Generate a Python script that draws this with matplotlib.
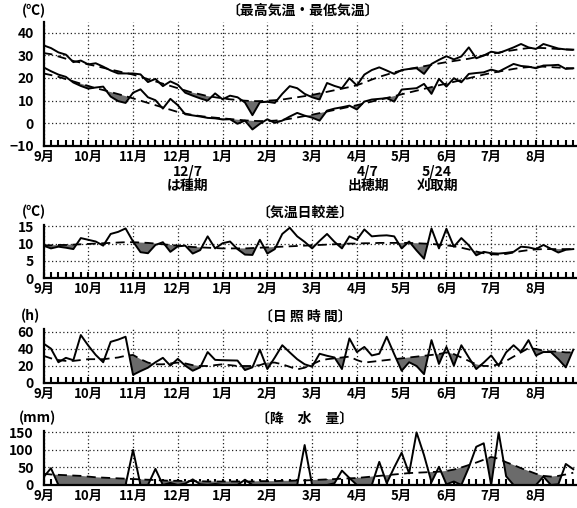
import numpy as np
import matplotlib.pyplot as plt

plt.rcParams['font.family'] = ['Noto Sans CJK JP', 'DejaVu Sans']
plt.rcParams['font.weight'] = 'bold'

W, H = 577, 508

months = ['9月', '10月', '11月', '12月', '1月', '2月',
          '3月', '4月', '5月', '6月', '7月', '8月']

# pentad values, Sep 1st pentad .. Aug 6th pentad (72)
tmax = [34.4, 33.2, 31.3, 30.3, 27.0, 27.7,
        26.0, 26.5, 25.0, 23.3, 22.0, 22.0,
        22.0, 21.6, 18.2, 19.6, 16.4, 18.5,
        17.0, 13.5, 12.2, 11.0, 10.0, 13.2,
        10.6, 12.2, 11.5, 9.2, 3.6, 9.3,
        9.5, 9.0, 13.0, 16.4, 15.5, 13.0,
        11.5, 10.5, 17.8, 16.5, 15.5, 19.9,
        16.7, 21.5, 23.5, 24.7, 23.3, 21.8,
        23.5, 24.0, 24.3, 21.8, 26.2, 28.0,
        29.6, 28.2, 29.5, 33.5, 28.7, 29.9,
        31.6, 31.0, 32.2, 33.5, 35.0, 33.5,
        32.8, 35.0, 34.0, 33.0, 32.6, 32.5]
tmax_norm = [31.0, 30.5, 29.5, 28.5, 27.5, 26.8,
             26.0, 25.3, 24.5, 23.7, 23.0, 22.2,
             21.5, 20.5, 19.5, 18.5, 17.5, 16.5,
             15.5, 14.5, 13.5, 12.8, 12.0, 11.5,
             11.0, 10.6, 10.3, 10.0, 9.8, 9.8,
             10.0, 10.2, 10.5, 11.0, 11.5, 12.0,
             12.5, 13.2, 13.9, 14.6, 15.3, 16.0,
             16.8, 18.0, 19.3, 20.5, 21.5, 22.5,
             23.3, 24.0, 24.6, 25.2, 25.8, 26.4,
             27.0, 27.5, 28.0, 28.5, 29.2, 30.0,
             30.6, 31.2, 31.8, 32.3, 32.8, 33.2,
             33.3, 33.2, 33.0, 32.8, 32.6, 32.4]
tmin = [24.7, 23.0, 21.5, 20.5, 18.0, 16.5,
        15.3, 15.8, 16.2, 11.8, 9.8, 9.0,
        13.5, 15.0, 11.5, 10.2, 6.5, 10.8,
        8.0, 4.0, 3.5, 3.0, 2.4, 2.2,
        1.7, 1.8, -0.2, 1.2, -2.7, -0.2,
        1.8, 0.2, 1.2, 3.0, 4.6, 3.4,
        2.5, 1.2, 5.6, 6.5, 7.1, 7.8,
        6.1, 9.6, 10.5, 10.8, 11.1, 9.6,
        14.9, 15.2, 15.5, 17.4, 13.0, 19.6,
        16.2, 19.9, 18.1, 21.8, 22.2, 22.5,
        23.7, 22.8, 24.5, 26.2, 25.3, 25.0,
        24.3, 25.5, 25.6, 25.8, 24.0, 24.3]
tmin_norm = [22.0, 21.3, 20.5, 19.5, 18.5, 17.5,
             16.5, 15.5, 14.7, 13.8, 12.9, 12.0,
             11.0, 10.0, 9.0, 8.0, 7.0, 6.0,
             5.0, 4.3, 3.7, 3.2, 2.8, 2.5,
             2.2, 1.9, 1.6, 1.3, 1.1, 1.0,
             1.0, 1.2, 1.5, 2.0, 2.6, 3.2,
             3.8, 4.5, 5.2, 5.9, 6.6, 7.3,
             8.0, 8.8, 9.6, 10.4, 11.2, 12.0,
             12.8, 13.6, 14.4, 15.2, 16.0, 16.8,
             17.5, 18.3, 19.1, 19.9, 20.7, 21.5,
             22.2, 22.8, 23.4, 24.0, 24.5, 24.8,
             25.0, 25.0, 24.8, 24.6, 24.4, 24.2]

rng = [9.4, 8.6, 9.1, 8.8, 8.4, 11.6,
       11.1, 10.6, 9.4, 12.8, 13.4, 14.4,
       10.6, 7.5, 7.2, 9.6, 10.4, 7.6,
       9.2, 9.4, 7.1, 8.1, 12.1, 8.6,
       10.1, 10.6, 8.4, 6.8, 6.7, 11.1,
       7.1, 8.4, 12.8, 14.6, 12.1, 10.5,
       8.6, 10.8, 12.8, 10.5, 8.6, 12.1,
       11.1, 14.1, 12.1, 12.3, 12.4, 12.1,
       8.6, 10.6, 8.0, 5.6, 14.4, 8.6,
       14.3, 9.1, 11.6, 9.5, 6.6, 7.6,
       7.2, 7.1, 7.3, 7.6, 9.1, 8.9,
       8.4, 9.6, 8.5, 7.4, 8.2, 8.4]
rng_norm = [9.5, 9.5, 9.6, 9.6, 9.7, 9.8,
            9.9, 10.0, 10.1, 10.2, 10.3, 10.4,
            10.4, 10.3, 10.2, 10.0, 9.8, 9.6,
            9.4, 9.2, 9.0, 8.9, 8.8, 8.7,
            8.6, 8.6, 8.6, 8.6, 8.7, 8.8,
            8.9, 9.0, 9.1, 9.2, 9.3, 9.4,
            9.5, 9.6, 9.7, 9.8, 9.9, 10.0,
            10.0, 10.1, 10.1, 10.2, 10.2, 10.2,
            10.2, 10.2, 10.1, 10.0, 9.9, 9.7,
            9.5, 9.2, 8.8, 8.3, 7.7, 7.2,
            6.9, 6.8, 7.0, 7.4, 7.8, 8.1,
            8.3, 8.4, 8.4, 8.4, 8.4, 8.4]

sun = [46.4, 40.4, 24.4, 29.6, 26.8, 56.4,
       44.0, 33.0, 24.4, 48.4, 51.0, 54.4,
       9.6, 14.0, 18.0, 24.4, 29.6, 20.4,
       28.4, 20.4, 14.4, 18.4, 36.4, 27.2,
       26.8, 26.6, 26.4, 15.2, 18.4, 39.2,
       16.4, 30.0, 44.4, 36.0, 28.0, 22.0,
       19.2, 34.4, 32.0, 30.0, 16.4, 52.4,
       36.4, 42.4, 32.4, 34.4, 54.4, 34.0,
       14.4, 24.4, 20.0, 10.4, 50.4, 22.4,
       42.4, 20.4, 44.4, 30.0, 16.4, 24.0,
       32.4, 20.4, 36.0, 44.4, 36.4, 50.4,
       32.4, 36.4, 36.4, 28.0, 18.4, 39.2]
sun_norm = [32, 29, 27, 26, 26, 27,
            28, 28, 28, 29, 30, 32,
            33, 28, 24, 22, 22, 23,
            24, 23, 21, 20, 20, 21,
            22, 21, 20, 20, 20, 21,
            24, 24, 22, 19, 16, 18,
            22, 26, 28, 29, 30, 31,
            27, 24, 25, 26, 27, 28,
            29, 30, 31, 32, 33, 34,
            36, 34, 30, 26, 22, 20,
            20, 22, 26, 31, 36, 41,
            40, 38, 37, 37, 36, 36]

rain = [22, 48, 0, 0, 0, 0,
        0, 0, 0, 0, 0, 0,
        100, 0, 0, 46, 0, 6,
        0, 4, 16, 2, 0, 3,
        0, 0, 0, 15, 0, 0,
        0, 0, 0, 0, 0, 114,
        0, 0, 0, 5, 41, 20,
        0, 0, 0, 66, 5, 50,
        92, 33, 150, 85, 8, 52,
        2, 10, 0, 50, 109, 119,
        0, 150, 25, 0, 0, 0,
        0, 24, 0, 2, 60, 45]
rain_norm = [32, 30, 29, 28, 27, 26,
             24, 22, 21, 20, 19, 18,
             17, 16, 15, 14, 13, 12,
             12, 11, 11, 11, 10, 10,
             10, 10, 10, 10, 10, 11,
             11, 11, 12, 12, 13, 13,
             14, 15, 16, 17, 18, 19,
             20, 22, 24, 26, 28, 30,
             32, 34, 35, 36, 37, 38,
             40, 44, 50, 57, 64, 72,
             80, 75, 65, 57, 48, 40,
             32, 26, 24, 26, 30, 35]

pentad = np.arange(72)
SHADE = '#6b6b6b'

fig = plt.figure(figsize=(W / 100, H / 100), dpi=100)


def make_axes(top_px, bottom_px, ylim, yticks):
    left = 43.5 / W
    width = 532 / W
    ax = fig.add_axes([left, 1 - bottom_px / H, width, (bottom_px - top_px) / H])
    ax.set_xlim(0, 71.3)
    ax.set_ylim(*ylim)
    ax.set_axisbelow(True)
    for s in ['top', 'right']:
        ax.spines[s].set_visible(False)
    for s in ['left', 'bottom']:
        ax.spines[s].set_linewidth(1.6)
    ax.set_xticks(range(0, 72, 6))
    ax.set_xticklabels(months)
    ax.set_xticks(pentad, minor=True)
    ax.tick_params(axis='x', which='both', direction='in', length=4, width=1.5,
                   labelsize=9.5, pad=2.5)
    ax.set_yticks(yticks)
    ax.tick_params(axis='y', length=0, labelsize=10, pad=7)
    ax.grid(True, axis='x', which='major', color='#222', lw=0.9, linestyle=(0, (1, 2)))
    ax.grid(True, axis='y', color='#222', lw=0.9, linestyle=(0, (1, 2)))
    return ax


def draw(ax, obs, norm):
    obs = np.array(obs, dtype=float)
    norm = np.array(norm, dtype=float)
    ax.fill_between(pentad, obs, norm, where=obs < norm, interpolate=True,
                    color=SHADE, lw=0, zorder=1)
    ax.plot(pentad, norm, color='k', lw=1.3, dashes=(5, 3), zorder=2)
    ax.plot(pentad, obs, color='k', lw=1.4, zorder=3)


def label(x, y, s, size=10, ha='center'):
    fig.text(x / W, 1 - y / H, s, fontsize=size, ha=ha, va='center')


# max / min temperature
ax1 = make_axes(22, 146, (-10, 44.7), [-10, 0, 10, 20, 30, 40])
draw(ax1, tmax, tmax_norm)
draw(ax1, tmin, tmin_norm)
label(34, 11, '(℃)')
label(303, 11, '〔最高気温・最低気温〕')
label(188, 172, '12/7')
label(188, 186, 'は種期')
label(368, 172, '4/7')
label(368, 186, '出穂期')
label(437, 172, '5/24')
label(437, 186, '刈取期')

# diurnal range
ax2 = make_axes(225, 278, (0, 15.4), [0, 5, 10, 15])
draw(ax2, rng, rng_norm)
label(34, 212, '(℃)')
label(305, 213, '〔気温日較差〕')

# sunshine hours
ax3 = make_axes(329, 383, (0, 63.5), [0, 20, 40, 60])
draw(ax3, sun, sun_norm)
label(31, 316, '(h)')
label(305, 317, '〔日 照 時 間〕')

# precipitation
ax4 = make_axes(431, 485, (0, 154), [0, 50, 100, 150])
draw(ax4, rain, rain_norm)
label(37, 418, '(mm)')
label(305, 419, '〔降　水　量〕')

fig.savefig('out.png', dpi=100)
